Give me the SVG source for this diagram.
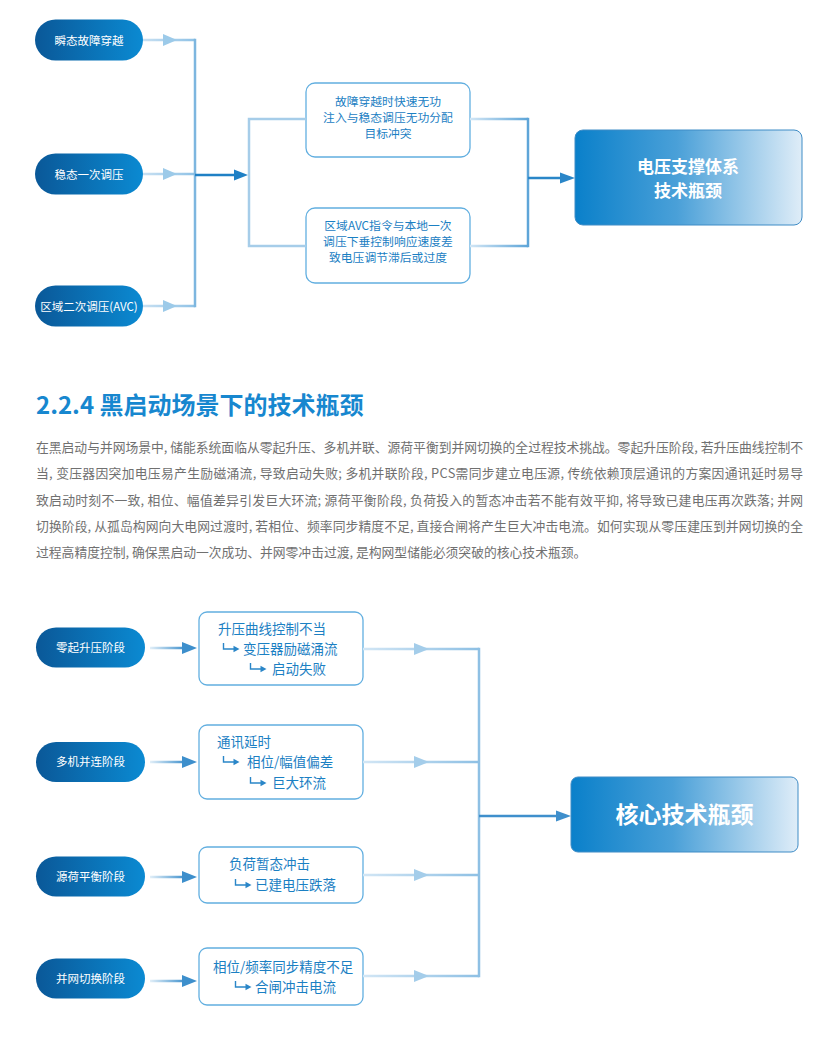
<svg xmlns="http://www.w3.org/2000/svg" width="825" height="1040" viewBox="0 0 825 1040">
<defs>
<linearGradient id="pillG" x1="0" y1="0" x2="1" y2="0">
<stop offset="0" stop-color="#0a5898"/>
<stop offset="1" stop-color="#0b8ad2"/>
</linearGradient>
<linearGradient id="bigG" x1="0" y1="0" x2="1" y2="0">
<stop offset="0" stop-color="#0a80ca"/>
<stop offset="0.45" stop-color="#4aa0d8"/>
<stop offset="1" stop-color="#dfedf8"/>
</linearGradient>
<linearGradient id="inG" x1="0" y1="0" x2="1" y2="0">
<stop offset="0" stop-color="#e2eff8"/>
<stop offset="1" stop-color="#3d8fcc"/>
</linearGradient>
<linearGradient id="outG" x1="0" y1="0" x2="1" y2="0">
<stop offset="0" stop-color="#d2e6f5"/>
<stop offset="1" stop-color="#8ec0e4"/>
</linearGradient>
<linearGradient id="topOutG" x1="0" y1="0" x2="1" y2="0">
<stop offset="0" stop-color="#d2e6f5"/>
<stop offset="1" stop-color="#5ea5d8"/>
</linearGradient>
<linearGradient id="pillOutG" x1="0" y1="0" x2="1" y2="0">
<stop offset="0" stop-color="#c8e0f2"/>
<stop offset="1" stop-color="#8fc2e6"/>
</linearGradient>
<g id="hook">
<path d="M0,-6 V0 H11" fill="none" stroke="#2a86c8" stroke-width="1.4"/>
<polygon points="10,-3.2 16,0 10,3.2" fill="#2a86c8"/>
</g>
</defs>
<style>
.pill{fill:url(#pillG);}
.pt{font-family:"Noto Sans CJK SC","Noto Sans",sans-serif;font-size:11.5px;fill:#ffffff;text-anchor:middle;}
.box{fill:#ffffff;stroke:#62afe0;stroke-width:1.3;}
.bt{font-family:"Noto Sans CJK SC","Noto Sans",sans-serif;font-size:11.8px;fill:#1b80c3;text-anchor:middle;}
.bt2{font-family:"Noto Sans CJK SC","Noto Sans",sans-serif;font-size:13.5px;fill:#1b80c3;}
.big{fill:url(#bigG);stroke:#3f8cc6;stroke-width:1;}
.bigt{font-family:"Noto Sans CJK SC","Noto Sans",sans-serif;font-weight:bold;fill:#ffffff;text-anchor:middle;}
.para{font-family:"Noto Sans CJK SC","Noto Sans",sans-serif;font-size:12.8px;fill:#707070;}
.ln{fill:none;stroke-width:2.5;}
</style>

<!-- Top section nodes -->
<g id="n-top-pill1"><rect class="pill" x="35" y="19.5" width="108" height="41" rx="20.5"/><text class="pt" x="89" y="44.5">瞬态故障穿越</text></g>
<g id="n-top-pill2"><rect class="pill" x="35" y="153.5" width="108" height="41" rx="20.5"/><text class="pt" x="89" y="178.5">稳态一次调压</text></g>
<g id="n-top-pill3"><rect class="pill" x="35" y="285.5" width="108" height="41" rx="20.5"/><text class="pt" x="89" y="310.5">区域二次调压(AVC)</text></g>

<g id="n-top-box1"><rect class="box" x="306" y="83" width="164" height="74" rx="9"/>
<text class="bt" x="388" y="106">故障穿越时快速无功</text>
<text class="bt" x="388" y="122">注入与稳态调压无功分配</text>
<text class="bt" x="388" y="138">目标冲突</text></g>
<g id="n-top-box2"><rect class="box" x="306" y="208" width="164" height="75" rx="9"/>
<text class="bt" x="388" y="230">区域AVC指令与本地一次</text>
<text class="bt" x="388" y="246">调压下垂控制响应速度差</text>
<text class="bt" x="388" y="262">致电压调节滞后或过度</text></g>

<g id="n-top-result"><rect class="big" x="575" y="130" width="227" height="95" rx="8"/>
<text class="bigt" x="688" y="173" font-size="17">电压支撑体系</text>
<text class="bigt" x="688" y="197" font-size="17">技术瓶颈</text></g>

<!-- Heading and paragraph -->
<g id="heading"><text x="36" y="414" font-family="'Noto Sans CJK SC','Noto Sans',sans-serif" font-size="24" font-weight="bold" fill="#1787cf">2.2.4 黑启动场景下的技术瓶颈</text></g>
<g id="paragraph">
<text class="para" x="36" y="452" textLength="767" lengthAdjust="spacing">在黑启动与并网场景中, 储能系统面临从零起升压、多机并联、源荷平衡到并网切换的全过程技术挑战。零起升压阶段, 若升压曲线控制不</text>
<text class="para" x="36" y="478" textLength="767" lengthAdjust="spacing">当, 变压器因突加电压易产生励磁涌流, 导致启动失败; 多机并联阶段, PCS需同步建立电压源, 传统依赖顶层通讯的方案因通讯延时易导</text>
<text class="para" x="36" y="505" textLength="767" lengthAdjust="spacing">致启动时刻不一致, 相位、幅值差异引发巨大环流; 源荷平衡阶段, 负荷投入的暂态冲击若不能有效平抑, 将导致已建电压再次跌落; 并网</text>
<text class="para" x="36" y="531" textLength="767" lengthAdjust="spacing">切换阶段, 从孤岛构网向大电网过渡时, 若相位、频率同步精度不足, 直接合闸将产生巨大冲击电流。如何实现从零压建压到并网切换的全</text>
<text class="para" x="36" y="557">过程高精度控制, 确保黑启动一次成功、并网零冲击过渡, 是构网型储能必须突破的核心技术瓶颈。</text>
</g>

<!-- Bottom section nodes -->
<g id="n-pill-1"><rect class="pill" x="36" y="627.5" width="109" height="40" rx="20"/><text class="pt" x="90.5" y="651.5">零起升压阶段</text></g>
<g id="n-pill-2"><rect class="pill" x="36" y="742" width="109" height="40" rx="20"/><text class="pt" x="90.5" y="766">多机并连阶段</text></g>
<g id="n-pill-3"><rect class="pill" x="36" y="856.5" width="109" height="40" rx="20"/><text class="pt" x="90.5" y="880.5">源荷平衡阶段</text></g>
<g id="n-pill-4"><rect class="pill" x="36" y="958.5" width="109" height="40" rx="20"/><text class="pt" x="90.5" y="982.5">并网切换阶段</text></g>

<g id="n-box-1"><rect class="box" x="199" y="612" width="164" height="73" rx="8"/>
<text class="bt2" x="218" y="634">升压曲线控制不当</text>
<use href="#hook" x="223.5" y="649"/><text class="bt2" x="243" y="654">变压器励磁涌流</text>
<use href="#hook" x="250.5" y="669"/><text class="bt2" x="272" y="674">启动失败</text></g>
<g id="n-box-2"><rect class="box" x="199" y="725" width="164" height="74" rx="8"/>
<text class="bt2" x="217" y="747">通讯延时</text>
<use href="#hook" x="223.5" y="762"/><text class="bt2" x="247" y="767">相位/幅值偏差</text>
<use href="#hook" x="250.5" y="783"/><text class="bt2" x="272" y="788">巨大环流</text></g>
<g id="n-box-3"><rect class="box" x="199" y="847" width="164" height="56" rx="8"/>
<text class="bt2" x="229" y="869">负荷暂态冲击</text>
<use href="#hook" x="235.5" y="885"/><text class="bt2" x="255" y="890">已建电压跌落</text></g>
<g id="n-box-4"><rect class="box" x="199" y="948" width="164" height="57" rx="8"/>
<text class="bt2" x="213" y="972">相位/频率同步精度不足</text>
<use href="#hook" x="235.5" y="987"/><text class="bt2" x="255" y="992">合闸冲击电流</text></g>

<g id="n-result"><rect class="big" x="571" y="777" width="227" height="75" rx="7"/>
<text class="bigt" x="684.5" y="823" font-size="23">核心技术瓶颈</text></g>

<!-- Connectors -->
<g id="connectors">
<!-- top: pills to bus -->
<rect x="143" y="38.75" width="52" height="2.5" fill="url(#pillOutG)"/>
<polygon points="163,34 177,40 163,46" fill="#9ccae9"/>
<rect x="143" y="172.75" width="52" height="2.5" fill="url(#pillOutG)"/>
<polygon points="163,168 177,174 163,180" fill="#9ccae9"/>
<rect x="143" y="304.75" width="52" height="2.5" fill="url(#pillOutG)"/>
<polygon points="163,300 177,306 163,312" fill="#9ccae9"/>
<path class="ln" d="M195,38.8 V307.2" stroke="#7db6df"/>
<!-- bus to split -->
<path class="ln" d="M195,175 H236" stroke="#1f80c5"/>
<polygon points="234,169.5 248,175 234,180.5" fill="#1f80c5"/>
<path class="ln" d="M306,119 H249 V246 H306" stroke="#a6cde9"/>
<!-- boxes to merge -->
<rect x="470" y="117.75" width="58" height="2.5" fill="url(#topOutG)"/>
<rect x="470" y="244.75" width="58" height="2.5" fill="url(#topOutG)"/>
<path class="ln" d="M528,117.8 V247.2" stroke="#5ea5d8"/>
<path class="ln" d="M528,178 H562" stroke="#2a86c8"/>
<polygon points="560,172.5 575,178 560,183.5" fill="#2a86c8"/>

<!-- bottom: pills to boxes -->
<rect x="150" y="646.75" width="36" height="2.5" fill="url(#inG)"/>
<polygon points="182,642 197,648 182,654" fill="#3d8fcc"/>
<rect x="150" y="760.75" width="36" height="2.5" fill="url(#inG)"/>
<polygon points="182,756 197,762 182,768" fill="#3d8fcc"/>
<rect x="150" y="875.75" width="36" height="2.5" fill="url(#inG)"/>
<polygon points="182,871 197,877 182,883" fill="#3d8fcc"/>
<rect x="150" y="979.75" width="36" height="2.5" fill="url(#inG)"/>
<polygon points="182,975 197,981 182,987" fill="#3d8fcc"/>
<!-- boxes to bus -->
<rect x="363" y="647.75" width="116" height="2.5" fill="url(#outG)"/>
<polygon points="414,643 429,649 414,655" fill="#a4cdea"/>
<rect x="363" y="760.75" width="116" height="2.5" fill="url(#outG)"/>
<polygon points="414,756 429,762 414,768" fill="#a4cdea"/>
<rect x="363" y="873.75" width="116" height="2.5" fill="url(#outG)"/>
<polygon points="414,869 429,875 414,881" fill="#a4cdea"/>
<rect x="363" y="974.75" width="116" height="2.5" fill="url(#outG)"/>
<polygon points="414,970 429,976 414,982" fill="#a4cdea"/>
<path class="ln" d="M479,647.8 V977.2" stroke="#8ec0e4"/>
<path class="ln" d="M479,816 H558" stroke="#3f8fcc"/>
<polygon points="556,810.5 571,816 556,821.5" fill="#3f8fcc"/>
</g>
</svg>
